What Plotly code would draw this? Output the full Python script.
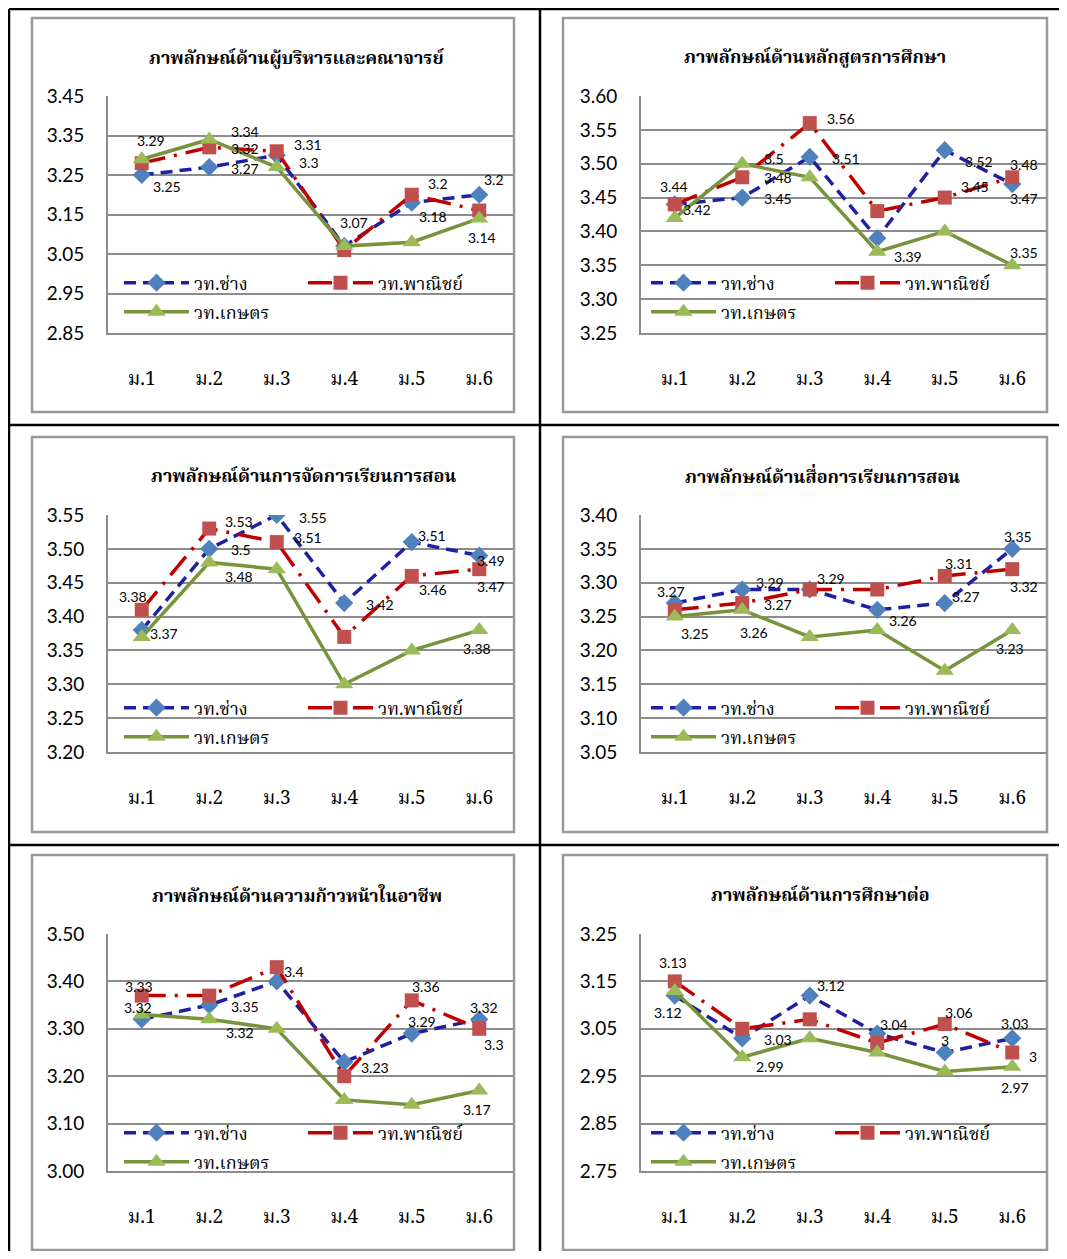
import plotly.graph_objects as go

# reference canvas size and page body offset (browser default body margin)
REF_W, REF_H = 1067, 1259
OFF = 8
W, H = REF_W - 2 * OFF, REF_H - 2 * OFF

categories = ["ม.1", "ม.2", "ม.3", "ม.4", "ม.5", "ม.6"]
series_names = ["วท.ช่าง", "วท.พาณิชย์", "วท.เกษตร"]

titles = [
    "ภาพลักษณ์ด้านผู้บริหารและคณาจารย์",
    "ภาพลักษณ์ด้านหลักสูตรการศึกษา",
    "ภาพลักษณ์ด้านการจัดการเรียนการสอน",
    "ภาพลักษณ์ด้านสื่อการเรียนการสอน",
    "ภาพลักษณ์ด้านความก้าวหน้าในอาชีพ",
    "ภาพลักษณ์ด้านการศึกษาต่อ",
]

# values per panel: [ช่าง, พาณิชย์, เกษตร]
p1_chang = [3.25, 3.27, 3.30, 3.07, 3.18, 3.20]
p1_panich = [3.28, 3.32, 3.31, 3.06, 3.20, 3.16]
p1_kaset = [3.29, 3.34, 3.27, 3.07, 3.08, 3.14]

p2_chang = [3.44, 3.45, 3.51, 3.39, 3.52, 3.47]
p2_panich = [3.44, 3.48, 3.56, 3.43, 3.45, 3.48]
p2_kaset = [3.42, 3.50, 3.48, 3.37, 3.40, 3.35]

p3_chang = [3.38, 3.50, 3.55, 3.42, 3.51, 3.49]
p3_panich = [3.41, 3.53, 3.51, 3.37, 3.46, 3.47]
p3_kaset = [3.37, 3.48, 3.47, 3.30, 3.35, 3.38]

p4_chang = [3.27, 3.29, 3.29, 3.26, 3.27, 3.35]
p4_panich = [3.26, 3.27, 3.29, 3.29, 3.31, 3.32]
p4_kaset = [3.25, 3.26, 3.22, 3.23, 3.17, 3.23]

p5_chang = [3.32, 3.35, 3.40, 3.23, 3.29, 3.32]
p5_panich = [3.37, 3.37, 3.43, 3.20, 3.36, 3.30]
p5_kaset = [3.33, 3.32, 3.30, 3.15, 3.14, 3.17]

p6_chang = [3.12, 3.03, 3.12, 3.04, 3.00, 3.03]
p6_panich = [3.15, 3.05, 3.07, 3.02, 3.06, 3.00]
p6_kaset = [3.13, 2.99, 3.03, 3.00, 2.96, 2.97]

panel_values = [
    [p1_chang, p1_panich, p1_kaset],
    [p2_chang, p2_panich, p2_kaset],
    [p3_chang, p3_panich, p3_kaset],
    [p4_chang, p4_panich, p4_kaset],
    [p5_chang, p5_panich, p5_kaset],
    [p6_chang, p6_panich, p6_kaset],
]

# y-axis ranges and tick steps
y_ranges = [(2.85, 3.45), (3.25, 3.60), (3.20, 3.55), (3.05, 3.40), (3.00, 3.50), (2.75, 3.25)]
y_steps = [0.1, 0.05, 0.05, 0.05, 0.1, 0.1]

# data-label placement (pixel offset from point: dx right, dy down); None = no label
label_offsets = [
    [[(25, 11), (36, 1), (32, 7), (10, -24), (21, 14), (15, -15)],
     [None, (36, 1), (31, -7), None, (26, -11), None],
     [(9, -19), (36, -8), None, None, None, (3, 19)]],
    [[None, (36, 1), (36, 2), (31, 18), (34, 11), (12, 14)],
     [(-1, -18), (36, 0), (31, -5), None, (30, -11), (12, -13)],
     [(22, -8), (32, -5), None, None, None, (12, -13)]],
    [[(-9, -34), (32, 1), (36, 3), (36, 1), (20, -7), (12, 5)],
     [None, (30, -7), (31, -5), None, (21, 14), (12, 17)],
     [(22, -3), (30, 14), None, None, None, (-2, 18)]],
    [[(-4, -12), (28, -7), None, (26, 11), (21, -7), (6, -12)],
     [None, (36, 1), (21, -11), None, (14, -12), (12, 17)],
     [(20, 17), (12, 23), None, None, None, (-2, 18)]],
    [[(-4, -12), (36, 1), (17, -10), (31, 6), (10, -12), (5, -12)],
     [None, None, None, None, (14, -14), (15, 16)],
     [(-3, -28), (31, 13), None, None, None, (-2, 19)]],
    [[(-7, 17), (36, 1), (21, -10), (17, -9), (0, -12), (3, -15)],
     [None, None, None, None, (14, -12), (21, 4)],
     [(-2, -28), (28, 9), None, None, None, (3, 21)]],
]

# ---------- layout geometry (pixels in reference image) ----------
col_plot_x = [(108, 513), (641, 1046)]
row_plot_y = [(96, 333), (515, 752), (934, 1171)]
col_box_x = [(32, 514), (563, 1047)]
row_box_y = [(18, 412), (437, 832), (855, 1250)]
title_pos = [(297, 60), (815, 59), (303, 478), (822, 478), (297, 897), (820, 896)]
legend_rows = [(283, 312), (708, 737), (1133, 1162)]
legend_x = [119, 646]

THAI_SERIF = "Noto Serif Thai, Tlwg Typo, Loma, Garuda, Noto Sans Thai, serif"
THAI_BOLD = "Noto Serif Thai, Noto Sans Thai, Garuda, Loma, serif"
NUM_FONT = "Lato, Carlito, Calibri, sans-serif"


def px(x):
    return (x - OFF) / W


def py(y):
    return 1 - (y - OFF) / H


styles = [
    dict(line=dict(color="#1f1fa3", width=3.5, dash="12px,7px"),
         marker=dict(symbol="diamond", size=14, color="#4f81bd")),
    dict(line=dict(color="#c00000", width=3.5, dash="24px,9px,3px,9px"),
         marker=dict(symbol="square", size=14, color="#c0504d")),
    dict(line=dict(color="#77933c", width=3.5),
         marker=dict(symbol="triangle-up", size=16, color="#9bbb59")),
]

fig = go.Figure()
annotations = []
shapes = []
layout = {}

for p in range(6):
    r, c = divmod(p, 2)
    n = p + 1
    xs = "" if n == 1 else str(n)
    lo, hi = y_ranges[p]
    x0, x1 = col_plot_x[c]
    y0, y1 = row_plot_y[r]
    leg_a = "legend" if n == 1 else f"legend{2 * n - 1}"
    leg_b = f"legend{2 * n}"

    for s in range(3):
        fig.add_trace(go.Scatter(
            x=categories, y=panel_values[p][s], name=series_names[s],
            mode="lines+markers", xaxis="x" + xs, yaxis="y" + xs,
            legend=leg_a if s < 2 else leg_b,
            line=styles[s]["line"], marker=styles[s]["marker"],
            hoverinfo="skip",
        ))
        for i, off in enumerate(label_offsets[p][s]):
            if off is None:
                continue
            v = panel_values[p][s][i]
            annotations.append(dict(
                x=categories[i], y=v, xref="x" + xs, yref="y" + xs,
                xanchor="center", yanchor="middle",
                text=f"{v:g}", showarrow=False, xshift=off[0], yshift=-off[1],
                font=dict(family=NUM_FONT, size=14, color="#000000"),
            ))

    layout["xaxis" + xs] = dict(
        domain=[px(x0), px(x1)], anchor="y" + xs, type="category",
        categoryorder="array", categoryarray=categories, range=[-0.5, 5.5],
        showgrid=False, showline=True, linecolor="#8c8c8c", linewidth=2,
        ticks="", ticklabelstandoff=27, zeroline=False, fixedrange=True,
        automargin=False,
        tickfont=dict(family=THAI_SERIF, size=19, color="#000000"),
    )
    layout["yaxis" + xs] = dict(
        domain=[py(y1), py(y0)], anchor="x" + xs, range=[lo, hi],
        tick0=lo, dtick=y_steps[p], tickformat=".2f",
        showgrid=True, gridcolor="#8c8c8c", gridwidth=1.5,
        showline=True, linecolor="#8c8c8c", linewidth=2,
        ticks="", ticklabelstandoff=18, zeroline=False, fixedrange=True,
        automargin=False,
        tickfont=dict(family=NUM_FONT, size=19, color="#000000"),
    )
    la, lb = legend_rows[r]
    for name, yy in ((leg_a, la), (leg_b, lb)):
        layout[name] = dict(
            orientation="h", x=px(legend_x[c]), y=py(yy), xanchor="left", yanchor="middle",
            bgcolor="rgba(0,0,0,0)", entrywidth=104, entrywidthmode="pixels",
            itemwidth=65, font=dict(family=THAI_SERIF, size=18, color="#000000"),
            itemclick=False, itemdoubleclick=False,
        )
    tx, ty = title_pos[p]
    annotations.append(dict(
        x=px(tx), y=py(ty), xref="paper", yref="paper", showarrow=False,
        xanchor="center", yanchor="middle",
        text="<b>" + titles[p] + "</b>",
        font=dict(family=THAI_BOLD, size=18, color="#000000"),
    ))
    bx0, bx1 = col_box_x[c]
    by0, by1 = row_box_y[r]
    shapes.append(dict(type="rect", xref="paper", yref="paper",
                       x0=px(bx0), x1=px(bx1), y0=py(by1), y1=py(by0),
                       line=dict(color="#999999", width=2.5), layer="below"))

# table lines
for xv in (9, 540):
    shapes.append(dict(type="line", xref="paper", yref="paper",
                       x0=px(xv), x1=px(xv), y0=0, y1=py(9),
                       line=dict(color="#000000", width=2.5)))
for yv in (9, 425, 845):
    shapes.append(dict(type="line", xref="paper", yref="paper",
                       x0=px(9), x1=1, y0=py(yv), y1=py(yv),
                       line=dict(color="#000000", width=2.5)))

fig.update_layout(
    width=W, height=H, margin=dict(l=0, r=0, t=0, b=0, autoexpand=False),
    paper_bgcolor="#ffffff", plot_bgcolor="rgba(0,0,0,0)",
    showlegend=True, annotations=annotations, shapes=shapes, **layout,
)

fig.write_html("out.html")
